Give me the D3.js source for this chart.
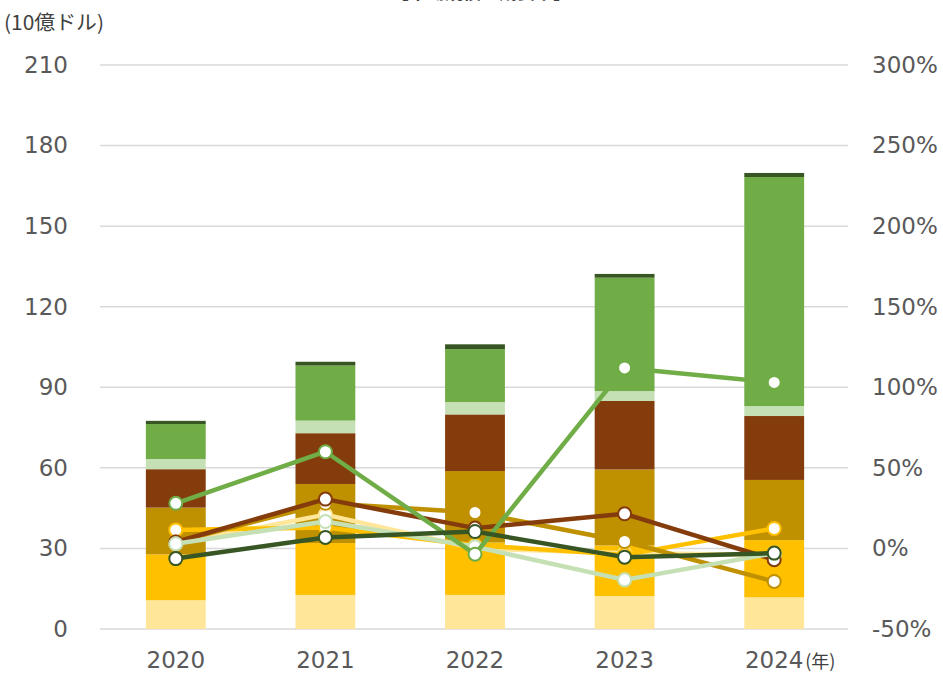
<!DOCTYPE html>
<html>
<head>
<meta charset="utf-8">
<script src="https://cdn.jsdelivr.net/npm/d3@7"></script>
<style>
  html, body { margin: 0; padding: 0; background: #fff; }
  svg { display: block; font-family: "DejaVu Sans", "Noto Sans CJK JP", sans-serif; }
</style>
</head>
<body>
<svg id="chart" width="943" height="674"></svg>
<script>
// Years on the x axis
const years = ["2020", "2021", "2022", "2023", "2024"];

// Stacked segment names (bottom to top) and colours
const segments = ["s1", "s2", "s3", "s4", "s5", "s6", "s7"];
const colors = ["#FFE699", "#FFC000", "#BF9000", "#843C0C", "#C5E0B4", "#70AD47", "#375623"];

// Segment values (10億ドル), one array per segment
const s1 = [10.7, 12.7, 12.7, 12.3, 11.8];
const s2 = [17.1, 19.3, 19.5, 18.8, 21.3];
const s3 = [17.4, 22.0, 26.6, 28.3, 22.4];
const s4 = [14.3, 18.9, 21.1, 25.5, 23.8];
const s5 = [3.8, 4.7, 4.6, 3.7, 3.7];
const s6 = [13.0, 20.5, 19.7, 42.2, 85.3];
const s7 = [1.2, 1.4, 1.8, 1.4, 1.5];

// Year-on-year growth (%) per segment, right axis
const g1 = [3, 21, 0, -3, -4];
const g2 = [11.5, 13, 2, -4, 12.4];
const g3 = [4, 28, 22.3, 4.3, -20.5];
const g4 = [4, 30.6, 12.6, 21.5, -7];
const g5 = [2.9, 16.7, 1, -19.5, -3];
const g6 = [28, 60, -3.6, 112, 103];
const g7 = [-6.3, 6.8, 10.5, -5.4, -2.9];

// Axis ticks
const leftTicks = [0, 30, 60, 90, 120, 150, 180, 210];
const rightTicks = [-50, 0, 50, 100, 150, 200, 250, 300];

const values = [s1, s2, s3, s4, s5, s6, s7];
const growth = [g1, g2, g3, g4, g5, g6, g7];

const svg = d3.select("#chart");
const plotLeft = 100, plotRight = 848, plotTop = 65, plotBottom = 629;

const x = d3.scaleBand().domain(years).range([plotLeft + 1, plotRight + 1]).paddingInner(0.6).paddingOuter(0.3);
const y = d3.scaleLinear().domain([0, 210]).range([plotBottom, plotTop]);
const y2 = d3.scaleLinear().domain([-50, 300]).range([plotBottom, plotTop]);

// Title (sits at the top edge of the page)
svg.append("text")
  .attr("x", 481).attr("y", -1)
  .attr("text-anchor", "middle")
  .attr("font-size", 18).attr("font-weight", "bold")
  .attr("fill", "#404040")
  .attr("font-family", "'Noto Sans CJK JP', sans-serif")
  .text("【市場規模と成長率】");

// Unit label
svg.append("text")
  .attr("x", 4).attr("y", 30)
  .attr("font-size", 20)
  .attr("fill", "#404040")
  .attr("font-family", "'Noto Sans CJK JP', sans-serif")
  .attr("textLength", 100)
  .attr("lengthAdjust", "spacingAndGlyphs")
  .text("(10億ドル)");

// Gridlines
svg.append("g").selectAll("line").data(leftTicks).join("line")
  .attr("x1", plotLeft).attr("x2", plotRight)
  .attr("y1", d => y(d)).attr("y2", d => y(d))
  .attr("stroke", "#d9d9d9").attr("stroke-width", 1.5);

// Left axis labels
const leftAxis = d3.axisLeft(y).tickValues(leftTicks).tickSize(0).tickPadding(0);
const gl = svg.append("g").attr("transform", "translate(68,0)").call(leftAxis);
gl.select(".domain").remove();
gl.selectAll("text").attr("font-size", 23).attr("fill", "#595959")
  .attr("font-family", "'DejaVu Sans', sans-serif");

// Right axis labels
const rightAxis = d3.axisRight(y2).tickValues(rightTicks).tickSize(0).tickPadding(0).tickFormat(d => d + "%");
const gr = svg.append("g").attr("transform", "translate(872,0)").call(rightAxis);
gr.select(".domain").remove();
gr.selectAll("text").attr("font-size", 23).attr("fill", "#595959")
  .attr("font-family", "'DejaVu Sans', sans-serif");

// Stacked bars
const rows = years.map((yr, i) => {
  const r = { year: yr };
  segments.forEach((s, k) => r[s] = values[k][i]);
  return r;
});
const stacked = d3.stack().keys(segments)(rows);
svg.append("g").selectAll("g").data(stacked).join("g")
  .attr("fill", (d, k) => colors[k])
  .selectAll("rect").data(d => d).join("rect")
  .attr("x", d => x(d.data.year))
  .attr("width", x.bandwidth())
  .attr("y", d => y(d[1]))
  .attr("height", d => y(d[0]) - y(d[1]));

// Growth lines with markers
const xc = yr => x(yr) + x.bandwidth() / 2;
const line = d3.line().x((d, i) => xc(years[i])).y(d => y2(d));
growth.forEach((g, k) => {
  const grp = svg.append("g");
  grp.append("path").datum(g)
    .attr("d", line)
    .attr("fill", "none")
    .attr("stroke", colors[k])
    .attr("stroke-width", 4.5)
    .attr("stroke-linejoin", "round");
  grp.selectAll("circle").data(g).join("circle")
    .attr("cx", (d, i) => xc(years[i]))
    .attr("cy", d => y2(d))
    .attr("r", 6.5)
    .attr("fill", "#fff")
    .attr("stroke", colors[k])
    .attr("stroke-width", 2);
});

// X axis labels
const gx = svg.append("g");
gx.selectAll("text").data(years).join("text")
  .attr("x", d => xc(d)).attr("y", 668)
  .attr("text-anchor", "middle")
  .attr("font-size", 23).attr("fill", "#595959")
  .attr("font-family", "'DejaVu Sans', sans-serif")
  .text(d => d);
const lastYear = years[years.length - 1];
svg.append("text")
  .attr("x", xc(lastYear) + 31).attr("y", 668)
  .attr("font-size", 18).attr("fill", "#404040")
  .attr("font-family", "'Noto Sans CJK JP', sans-serif")
  .text("(年)");
</script>
</body>
</html>
